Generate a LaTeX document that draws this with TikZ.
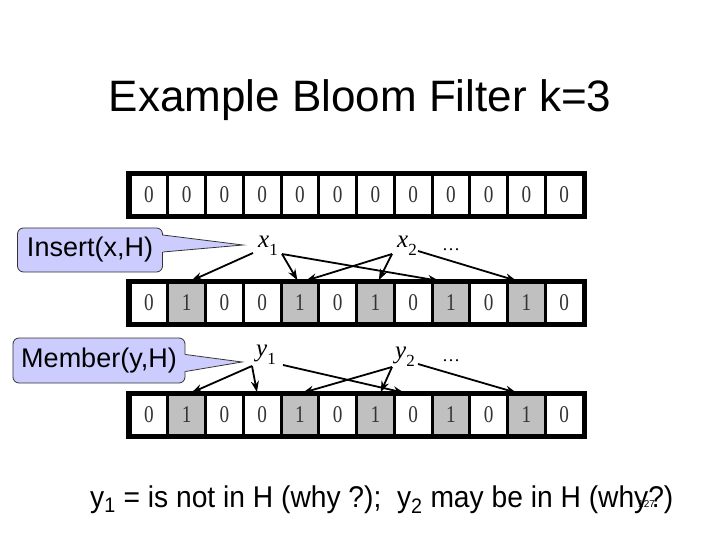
\documentclass[tikz,border=0pt]{standalone}
\usepackage{fontspec}
\setmainfont{Liberation Sans}
\newfontfamily\cellfont{Liberation Serif}[FakeStretch=0.8]
\newfontfamily\labelfont{Liberation Serif}
\newfontfamily\notefont{Liberation Sans}[FakeStretch=0.94]
\usetikzlibrary{arrows.meta}
\definecolor{bluebox}{RGB}{204,204,255}
\definecolor{setgray}{RGB}{192,192,192}
\newcommand\elem[2]{\textit{#1}\raisebox{-.3em}{\fontsize{17bp}{17bp}\selectfont #2}}

\tikzset{
  cell/.style={draw=black,line width=3bp,minimum width=37.75bp,minimum height=41bp,
    inner sep=0pt,text=black!80,font=\cellfont\fontsize{24bp}{24bp}\selectfont},
  cell0/.style={fill=white},
  cell1/.style={fill=setgray},
  frame/.style={line width=4.5bp},
  hash/.style={line width=1.8bp,shorten >=1bp,-{Stealth[length=11bp,width=8bp]}},
  elemname/.style={font=\labelfont\fontsize{25bp}{25bp}\selectfont,inner sep=0pt},
  balloon/.style={draw=black!80,line width=.8bp,fill=bluebox,rounded corners=6bp,
    minimum width=145bp,minimum height=44bp,inner sep=0pt,font=\fontsize{27bp}{27bp}\selectfont},
  balloonedge/.style={draw=black!80,line width=.8bp},
}

\begin{document}
\begin{tikzpicture}[x=1bp,y=-1bp]
\useasboundingbox (0,0) rectangle (720,540);

\node[anchor=base,font=\fontsize{44bp}{44bp}\selectfont] (title) at (360,112) {Example Bloom Filter k=3};

% the three bit arrays
\foreach \v [count=\i] in {0,0,0,0,0,0,0,0,0,0,0,0}
  \node[cell,cell\v] (a\i) at ({130+37.75*(\i-0.5)},195) {\v};
\foreach \v [count=\i] in {0,1,0,0,1,0,1,0,1,0,1,0}
  \node[cell,cell\v] (b\i) at ({130+37.75*(\i-0.5)},303) {\v};
\foreach \v [count=\i] in {0,1,0,0,1,0,1,0,1,0,1,0}
  \node[cell,cell\v] (c\i) at ({130+37.75*(\i-0.5)},415) {\v};
\foreach \r in {a,b,c}
  \draw[frame] (\r1.north west) rectangle (\r12.south east);

% inserted elements
\node[elemname] (x1) at (268,246) {\elem{x}{1}};
\node[elemname] (x2) at (407,246) {\elem{x}{2}};
\node[elemname,font=\labelfont\fontsize{18bp}{18bp}\selectfont] (xdots) at (451,250) {\ldots};
\coordinate (x1l) at (253,253);
\coordinate (x1r) at (282,254);
\coordinate (x2l) at (392,254);
\coordinate (x2r) at (418,251);
\draw[hash] (x1l) -- ([xshift=4bp]b2.north);
\draw[hash] (x1r) -- ([xshift=-2bp]b5.north);
\draw[hash] (x1r) -- ([xshift=-11bp]b9.north);
\draw[hash] (x2l) -- ([xshift=5bp]b5.north);
\draw[hash] (x2l) -- ([xshift=3bp]b7.north);
\draw[hash] (x2r) -- ([xshift=-9bp]b11.north);

% queried elements
\node[elemname] (y1) at (266,355) {\elem{y}{1}};
\node[elemname] (y2) at (405,357) {\elem{y}{2}};
\node[elemname,font=\labelfont\fontsize{18bp}{18bp}\selectfont] (ydots) at (451,361) {\ldots};
\coordinate (y1l) at (252,366);
\coordinate (y1r) at (283,365);
\coordinate (y2l) at (392,367);
\coordinate (y2r) at (418,364);
\draw[hash] (y1l) -- ([xshift=4bp]c2.north);
\draw[hash] (y1l) -- ([xshift=-5bp]c4.north);
\draw[hash] (y1r) -- ([xshift=-8bp]c8.north);
\draw[hash] (y2l) -- ([xshift=2bp]c5.north);
\draw[hash] (y2l) -- ([xshift=5bp]c7.north);
\draw[hash] (y2r) -- ([xshift=-9bp]c11.north);

% callouts
\node[balloon] (ins) at (90,250) {Insert(x,H)};
\coordinate (insp) at (243,245);
\fill[bluebox] ([shift={(-3bp,15bp)}]ins.east) -- (insp) -- ([shift={(-3bp,-2bp)}]ins.east) -- cycle;
\draw[balloonedge] ([yshift=15bp]ins.east) -- (insp) -- ([yshift=-2bp]ins.east);

\node[balloon,minimum width=172bp,minimum height=45bp] (mem) at (99,360.5) {Member(y,H)};
\coordinate (memp) at (242,362);
\fill[bluebox] ([shift={(-3bp,6bp)}]mem.east) -- (memp) -- ([shift={(-3bp,-11bp)}]mem.east) -- cycle;
\draw[balloonedge] ([yshift=6bp]mem.east) -- (memp) -- ([yshift=-11bp]mem.east);

% conclusion
\node[anchor=base west,inner sep=0pt,font=\notefont\fontsize{30bp}{30bp}\selectfont] (note) at (90,507)
  {y\textsubscript{1} = is not in H (why ?);\ \ y\textsubscript{2} may be in H (why?)};
\node[anchor=base west,inner sep=0pt,font=\fontsize{10bp}{10bp}\selectfont] (page) at (638,507) {127};
\end{tikzpicture}
\end{document}
